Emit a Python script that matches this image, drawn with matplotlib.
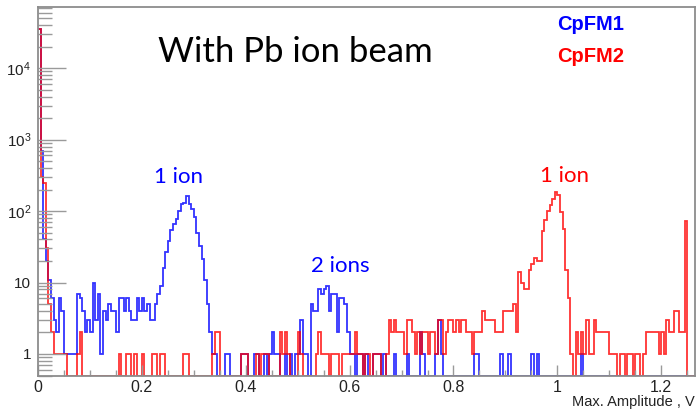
import numpy as np
import matplotlib.pyplot as plt
from matplotlib.ticker import (FixedLocator, FixedFormatter, LogLocator,
                               MultipleLocator, NullFormatter, FuncFormatter)

plt.rcParams['font.family'] = ['Liberation Sans', 'DejaVu Sans']
plt.rcParams['mathtext.fontset'] = 'custom'
plt.rcParams['mathtext.rm'] = 'Liberation Sans'

# histogram settings (max amplitude in V, 5 mV bins)
bin_width = 0.005
x_max = 1.265
y_min, y_max = 0.5, 7.1e4

# counts per bin, CpFM1 (blue)
cpfm1 = [35000, 700, 40, 20, 11, 6, 3, 2, 6, 4,
         1, 1, 1, 1, 1, 7, 6, 4, 2, 3,
         2, 10, 3, 7, 1, 4, 3, 5, 4, 4,
         2, 6, 6, 4, 6, 4, 3, 3, 6, 4,
         6, 4, 5, 3, 3, 5, 7, 9, 16, 27,
         38, 55, 65, 77, 100, 125, 130, 160, 125, 107,
         82, 50, 32, 21, 11, 5, 2, 1, 1, 0,
         0, 0, 1, 1, 0, 0, 0, 0, 1, 1,
         1, 0, 0, 1, 1, 0, 0, 1, 0, 1,
         2, 1, 1, 0, 0, 1, 0, 1, 0, 1,
         1, 3, 1, 1, 0, 5, 4, 4, 8, 7,
         8, 9, 4, 7, 7, 2, 6, 6, 5, 2,
         1, 1, 0, 1, 1, 0, 1, 0, 0, 1,
         1, 1, 0, 1, 0, 0, 0, 1, 0, 0,
         0, 0, 1, 0, 0, 0, 0, 2, 1, 0,
         0, 0, 0, 1, 3, 1, 0, 0, 0, 0,
         0, 0, 0, 0, 0, 0, 0, 0, 1, 1,
         0, 0, 0, 0, 0, 0, 0, 0, 1, 0,
         0, 1, 0, 0, 0, 0, 0, 0, 0, 0,
         1, 0, 1, 0, 0, 0, 0, 0, 0, 0,
         0, 0, 0, 0, 0, 0, 0, 0, 0, 1] + [0] * 43

# counts per bin, CpFM2 (red)
cpfm2 = [35000, 300, 250, 30, 5, 2, 1, 1, 1, 1,
         1, 0, 0, 0, 0, 1, 2, 0, 0, 0,
         0, 0, 0, 0, 0, 0, 0, 0, 0, 0,
         0, 1, 0, 0, 1, 1, 0, 1, 0, 0,
         1, 0, 0, 0, 1, 1, 0, 1, 1, 0,
         0, 0, 0, 0, 0, 0, 1, 1, 0, 0,
         0, 0, 0, 0, 0, 0, 0, 1, 2, 2,
         0, 0, 0, 0, 0, 0, 0, 0, 1, 1,
         1, 0, 0, 0, 1, 0, 1, 1, 1, 0,
         0, 0, 0, 2, 1, 2, 1, 0, 0, 0,
         2, 1, 0, 0, 0, 0, 0, 1, 2, 1,
         1, 1, 0, 1, 1, 1, 0, 1, 1, 1,
         1, 1, 2, 1, 1, 0, 1, 1, 0, 1,
         1, 1, 0, 0, 1, 3, 2, 3, 2, 2,
         2, 1, 3, 3, 2, 1, 2, 1, 2, 2,
         1, 2, 2, 1, 3, 3, 1, 2, 3, 3,
         2, 3, 2, 3, 3, 2, 2, 1, 2, 2,
         2, 4, 3, 3, 3, 3, 2, 2, 2, 4,
         4, 4, 4, 5, 2, 14, 10, 8, 8, 15,
         18, 22, 20, 20, 52, 75, 100, 120, 147, 182,
         170, 97, 56, 15, 6, 1, 0, 2, 1, 2,
         1, 3, 1, 1, 3, 2, 2, 2, 2, 2,
         1, 1, 1, 0, 1, 1, 0, 1, 1, 0,
         1, 1, 0, 1, 2, 2, 2, 2, 2, 1,
         2, 1, 3, 2, 2, 4, 4, 2, 2, 72,
         0, 0, 0]

y_ticks = [1, 10, 100, 1e3, 1e4]
y_labels = ['1', '10', r'$\mathregular{10^{2}}$', r'$\mathregular{10^{3}}$',
            r'$\mathregular{10^{4}}$']

W, H = 697, 409


def fpos(x, y):
    return x / W, 1 - y / H


edges = np.arange(len(cpfm1) + 1) * bin_width

fig = plt.figure(figsize=(W / 100, H / 100), dpi=100)
ax = fig.add_axes([38 / W, 1 - 375.5 / H, (695 - 38) / W, (375.5 - 7.3) / H])

for counts, col in [(cpfm1, '#0000ff'), (cpfm2, '#ff0000')]:
    # empty bins sit on the lower edge of the log axis
    vals = np.maximum(np.asarray(counts, dtype=float), y_min)
    ax.stairs(vals, edges, color=col, lw=1.3, alpha=0.8, baseline=None)

ax.set_yscale('log')
ax.set_xlim(0, x_max)
ax.set_ylim(y_min, y_max)

ax.yaxis.set_major_locator(FixedLocator(y_ticks))
ax.yaxis.set_major_formatter(FixedFormatter(y_labels))
ax.yaxis.set_minor_locator(LogLocator(base=10, subs=np.arange(2, 10), numticks=20))
ax.yaxis.set_minor_formatter(NullFormatter())
ax.xaxis.set_major_locator(MultipleLocator(0.2))
ax.xaxis.set_minor_locator(MultipleLocator(0.05))
ax.xaxis.set_major_formatter(FuncFormatter(lambda v, p: '{:g}'.format(round(v, 2))))

ax.tick_params(axis='y', which='major', direction='in', length=20, width=1,
               color='#9a9a9a', labelsize=11, labelcolor='#222222', pad=5)
ax.tick_params(axis='y', which='minor', direction='in', length=10, width=1,
               color='#9a9a9a')
ax.tick_params(axis='x', which='major', direction='in', length=8, width=1,
               color='#9a9a9a', labelsize=11.5, labelcolor='#222222', pad=3)
ax.tick_params(axis='x', which='minor', direction='in', length=4, width=1,
               color='#9a9a9a')
for sp in ax.spines.values():
    sp.set_color('#8c8c8c')
    sp.set_linewidth(1.3)

fig.text(*fpos(695, 406), 'Max. Amplitude , V', fontsize=10.5, color='#222222',
         ha='right', va='baseline')

fig.text(*fpos(295, 62), 'With Pb ion beam', family='Lato', fontsize=25,
         ha='center', va='baseline')
fig.text(*fpos(179, 183), '1 ion', family='Lato', fontsize=16, color='#0000ff',
         ha='center', va='baseline')
fig.text(*fpos(340, 272), '2 ions', family='Lato', fontsize=16, color='#0000ff',
         ha='center', va='baseline')
fig.text(*fpos(564, 182), '1 ion', family='Lato', fontsize=16, color='#ff0000',
         ha='center', va='baseline')
fig.text(*fpos(557, 30), 'CpFM1', fontsize=14.5, weight='bold', color='#0000ff',
         ha='left', va='baseline')
fig.text(*fpos(557, 62), 'CpFM2', fontsize=14.5, weight='bold', color='#ff0000',
         ha='left', va='baseline')

fig.savefig('out.png', dpi=100)
